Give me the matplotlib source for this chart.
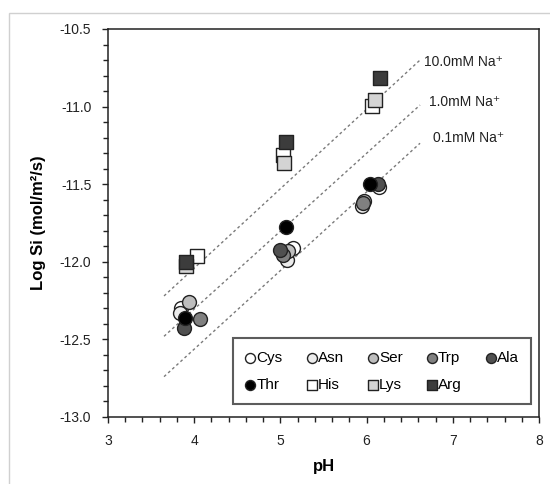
import matplotlib
matplotlib.use("Agg")
import matplotlib.pyplot as plt
from matplotlib.patches import Rectangle
from matplotlib.ticker import MultipleLocator, FormatStrFormatter

plt.rcParams['font.family'] = ['Liberation Sans', 'DejaVu Sans']

# ---- data ----
series_names = ["Cys", "Asn", "Ser", "Trp", "Ala", "Thr", "His", "Lys", "Arg"]
series_markers = ["o", "o", "o", "o", "o", "o", "s", "s", "s"]
series_colors = ["#ffffff", "#ececec", "#bdbdbd", "#808080", "#505050",
                 "#000000", "#ffffff", "#d4d4d4", "#3c3c3c"]

ph_cys = [3.85, 5.15, 6.14]
si_cys = [-12.30, -11.91, -11.52]
ph_asn = [3.84, 5.08, 5.95]
si_asn = [-12.33, -11.99, -11.64]
ph_ser = [3.94, 5.09, 5.97]
si_ser = [-12.26, -11.93, -11.61]
ph_trp = [4.07, 5.03, 5.96]
si_trp = [-12.37, -11.955, -11.62]
ph_ala = [3.88, 5.00, 6.13]
si_ala = [-12.425, -11.925, -11.50]
ph_thr = [3.89, 5.07, 6.04]
si_thr = [-12.36, -11.775, -11.50]
ph_his = [4.03, 5.03, 6.06]
si_his = [-11.965, -11.31, -10.995]
ph_lys = [3.91, 5.04, 6.10]
si_lys = [-12.03, -11.365, -10.957]
ph_arg = [3.91, 5.07, 6.16]
si_arg = [-12.00, -11.225, -10.818]

series_ph = [ph_cys, ph_asn, ph_ser, ph_trp, ph_ala, ph_thr, ph_his, ph_lys, ph_arg]
series_si = [si_cys, si_asn, si_ser, si_trp, si_ala, si_thr, si_his, si_lys, si_arg]

line_labels = ["10.0mM Na\u207a", "1.0mM Na\u207a", "0.1mM Na\u207a"]
line_ph = [3.65, 6.62]
line_10 = [-12.22, -10.70]
line_1 = [-12.48, -10.99]
line_01 = [-12.74, -11.236]
line_label_pos_ph = [6.67, 6.72, 6.77]
line_label_pos_si = [-10.71, -10.97, -11.20]

x_ticks = [3, 4, 5, 6, 7, 8]
y_ticks = [-13.0, -12.5, -12.0, -11.5, -11.0, -10.5]

# ---- figure ----
fig = plt.figure(figsize=(5.5, 4.84), dpi=100)
ax = fig.add_axes([108/550, 1-417/484, (539-108)/550, (417-29)/484])

# outer light frame
fig.patches.append(Rectangle((9/550, -0.1), 1.2, 1.1 - 12.6/484,
                             transform=fig.transFigure, fill=False,
                             edgecolor="#d0d0d0", linewidth=1.0))

for ys in (line_10, line_1, line_01):
    ax.plot(line_ph, ys, linestyle=(0, (2, 2)), color="#7a7a7a", linewidth=1.0, zorder=1)
for lab, px, py in zip(line_labels, line_label_pos_ph, line_label_pos_si):
    ax.text(px, py, lab, fontsize=10, ha="left", va="center", color="#222222")

handles = []
for i, (name, mk, col, xs, ys) in enumerate(zip(series_names, series_markers, series_colors,
                                                series_ph, series_si)):
    h = ax.scatter(xs, ys, s=100 if mk == "o" else 95, marker=mk, facecolor=col,
                   edgecolor="#222222", linewidth=1.0, zorder=3 + i, label=name)
    handles.append(h)

# reorder for row-major legend fill with ncol=5
order = [0, 5, 1, 6, 2, 7, 3, 8, 4]
leg = ax.legend([handles[i] for i in order], [series_names[i] for i in order],
                ncol=5, loc="lower right", bbox_to_anchor=(0.992, 0.022),
                prop={"size": 11}, frameon=True, fancybox=False, edgecolor="#333333",
                handletextpad=0.05, columnspacing=1.55, handlelength=0.7,
                markerscale=0.72, borderpad=0.8, labelspacing=0.85, borderaxespad=0.3)
leg.get_frame().set_linewidth(1.5)

ax.set_xlim(3, 8)
ax.set_ylim(-13.0, -10.5)
ax.set_xticks(x_ticks)
ax.set_yticks(y_ticks)
ax.xaxis.set_minor_locator(MultipleLocator(0.2))
ax.yaxis.set_minor_locator(MultipleLocator(0.1))
ax.yaxis.set_major_formatter(FormatStrFormatter("%.1f"))
ax.tick_params(which="both", direction="out", length=4, width=1.0, colors="#222222",
               labelsize=10, pad=8)
ax.tick_params(which="minor", length=3.5)
for sp in ax.spines.values():
    sp.set_linewidth(1.1)
    sp.set_color("#222222")

ax.set_xlabel("pH", fontsize=12, fontweight="bold", labelpad=8)
ax.set_ylabel("Log Si (mol/m\u00b2/s)", fontsize=12, fontweight="bold", labelpad=10)

fig.savefig("out.png", dpi=100)
